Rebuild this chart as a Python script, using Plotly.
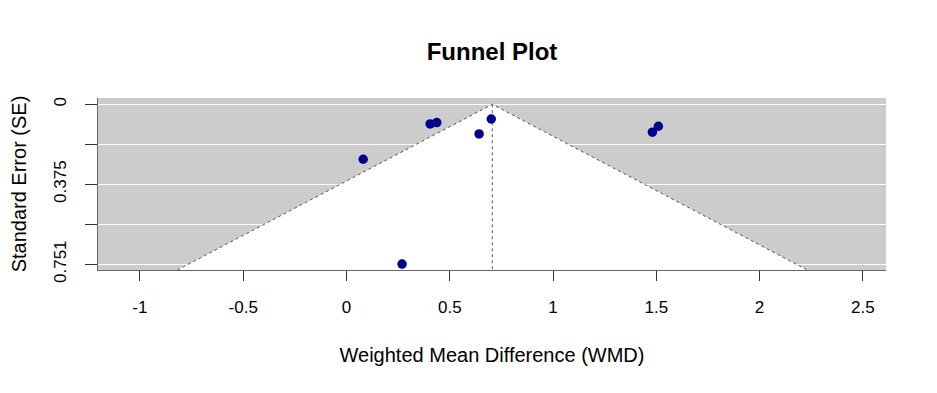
import plotly.graph_objects as go

# Data
wmd = [0.081, 0.269, 0.405, 0.437, 0.642, 0.701, 1.481, 1.510]
se = [0.258, 0.750, 0.092, 0.086, 0.139, 0.069, 0.131, 0.103]
pooled = 0.706
se_max = 0.778
y_tickvals = [0, 0.1877, 0.375, 0.563, 0.751]
y_ticktext = ["0", "", "0.375", "", "0.751"]
x_tickvals = [-1, -0.5, 0, 0.5, 1, 1.5, 2, 2.5]
x_ticktext = ["-1", "-0.5", "0", "0.5", "1", "1.5", "2", "2.5"]

z = 1.96
left_x = pooled - z * se_max
right_x = pooled + z * se_max

fig = go.Figure()

# white pseudo-confidence region
fig.add_trace(go.Scatter(
    x=[left_x, pooled, right_x, left_x],
    y=[se_max, 0, se_max, se_max],
    fill="toself", fillcolor="white", mode="lines",
    line=dict(width=0), hoverinfo="skip", showlegend=False))

# dotted funnel edges
fig.add_trace(go.Scatter(
    x=[left_x, pooled, right_x], y=[se_max, 0, se_max],
    mode="lines", line=dict(color="#555555", width=1, dash="dot"),
    hoverinfo="skip", showlegend=False))
fig.add_trace(go.Scatter(
    x=[pooled, pooled], y=[0, se_max],
    mode="lines", line=dict(color="#555555", width=1, dash="dot"),
    hoverinfo="skip", showlegend=False))

# studies
fig.add_trace(go.Scatter(
    x=wmd, y=se, mode="markers",
    marker=dict(color="#00008B", size=9.5),
    showlegend=False))

font_family = "Liberation Sans, Arial, sans-serif"

fig.update_layout(
    width=937, height=393,
    margin=dict(l=90, r=59, t=90, b=131),
    paper_bgcolor="white",
    plot_bgcolor="#CCCCCC",
    font=dict(family=font_family, size=17, color="black"),
    title=dict(text="<b>Funnel Plot</b>", x=0.5, xanchor="center",
               xref="paper",
               y=1 - 44 / 393, yanchor="middle",
               font=dict(size=24, family=font_family, color="black")),
    xaxis=dict(
        range=[-1.203, 2.612], tickvals=x_tickvals, ticktext=x_ticktext,
        showgrid=False, zeroline=False, automargin=False,
        showline=True, linecolor="#666666", linewidth=1,
        ticks="outside", ticklen=10, tickcolor="#333333",
        tickfont=dict(size=17), ticklabelstandoff=12,
        title=dict(text="Weighted Mean Difference (WMD)",
                   font=dict(size=20), standoff=31)),
    yaxis=dict(
        range=[se_max, -0.0296], tickvals=y_tickvals, ticktext=y_ticktext,
        showgrid=True, gridcolor="white", gridwidth=1, zeroline=False,
        automargin=False,
        showline=True, linecolor="#666666", linewidth=1,
        ticks="outside", ticklen=12, tickcolor="#333333",
        tickangle=-90, tickfont=dict(size=17), ticklabelstandoff=12,
        title=dict(text="Standard Error (SE)", font=dict(size=20),
                   standoff=22)),
)

fig.write_html("out.html")
